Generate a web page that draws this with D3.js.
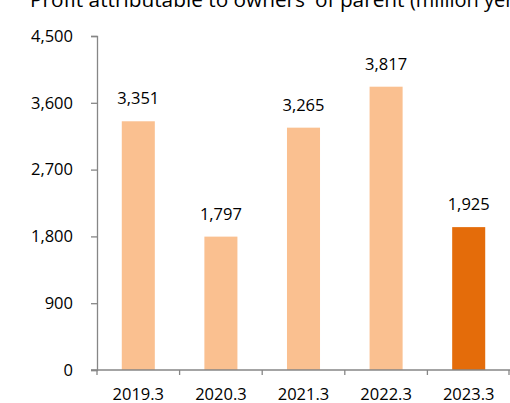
<!DOCTYPE html>
<html>
<head>
<meta charset="utf-8">
<script src="https://cdn.jsdelivr.net/npm/d3@7"></script>
<style>
  body { margin: 0; background: #fff; }
  svg { display: block; font-family: "Open Sans", sans-serif; }
</style>
</head>
<body>
<div id="chart"></div>
<script>
// Chart data
var years = ["2019.3", "2020.3", "2021.3", "2022.3", "2023.3"];
var profit = [3351, 1797, 3265, 3817, 1925];
var yTicks = [0, 900, 1800, 2700, 3600, 4500];

var width = 510, height = 403;
var margin = {top: 36, right: 0, bottom: 33, left: 97};

var svg = d3.select("#chart").append("svg")
    .attr("width", width)
    .attr("height", height);

// Title, partly cut at the top like the source image
var title = svg.append("text")
    .attr("x", 30)
    .attr("y", 7)
    .attr("font-size", "20.8px")
    .attr("fill", "#000");
title.append("tspan").text("Profit attributable to owners' of parent ");
title.append("tspan").attr("font-size", "20px").text("(million yen)");

var x = d3.scaleBand()
    .domain(years)
    .range([margin.left, width - margin.right])
    .paddingInner(0.6)
    .paddingOuter(0.3);

var y = d3.scaleLinear()
    .domain([0, 4500])
    .range([height - margin.bottom, margin.top]);

// Bars
svg.selectAll("rect.bar")
    .data(profit)
    .enter().append("rect")
    .attr("class", "bar")
    .attr("x", function(d, i){ return x(years[i]); })
    .attr("width", x.bandwidth())
    .attr("y", function(d){ return y(d); })
    .attr("height", function(d){ return y(0) - y(d); })
    .attr("fill", function(d, i){ return i == years.length - 1 ? "#e46c0a" : "#fac090"; });

// Value labels
svg.selectAll("text.val")
    .data(profit)
    .enter().append("text")
    .attr("class", "val")
    .attr("x", function(d, i){ return x(years[i]) + x.bandwidth()/2; })
    .attr("y", function(d){ return y(d) - 17; })
    .attr("text-anchor", "middle")
    .attr("font-size", "16.5px")
    .attr("fill", "#000")
    .text(function(d){ return d3.format(",")(d); });

// Y axis
var yAxis = svg.append("g")
    .attr("transform", "translate(" + margin.left + ",0)")
    .call(d3.axisLeft(y).tickValues(yTicks).tickFormat(d3.format(",")).tickSize(6).tickPadding(18));
yAxis.select(".domain").attr("stroke", "#868686").attr("stroke-width", 1.3);
yAxis.selectAll(".tick line").attr("stroke", "#868686").attr("stroke-width", 1.3);
yAxis.selectAll(".tick text")
    .attr("font-size", "16.5px")
    .attr("font-family", "'Open Sans', sans-serif")
    .attr("fill", "#000");

// X axis with ticks at band edges
var xAxisG = svg.append("g")
    .attr("transform", "translate(0," + y(0) + ")");
xAxisG.append("line")
    .attr("x1", margin.left - 6).attr("x2", width)
    .attr("stroke", "#868686").attr("stroke-width", 1.3);
var edges = years.map(function(d){ return x(d) - x.step()*x.paddingInner()/2; });
edges.push(width - margin.right - 1);
xAxisG.selectAll("line.tk")
    .data(edges)
    .enter().append("line")
    .attr("class", "tk")
    .attr("x1", function(d){ return d; })
    .attr("x2", function(d){ return d; })
    .attr("y1", 0).attr("y2", 5)
    .attr("stroke", "#868686").attr("stroke-width", 1.3);
xAxisG.selectAll("text")
    .data(years)
    .enter().append("text")
    .attr("x", function(d){ return x(d) + x.bandwidth()/2; })
    .attr("y", 30)
    .attr("text-anchor", "middle")
    .attr("font-size", "16.5px")
    .attr("fill", "#000")
    .text(function(d){ return d; });
</script>
</body>
</html>
